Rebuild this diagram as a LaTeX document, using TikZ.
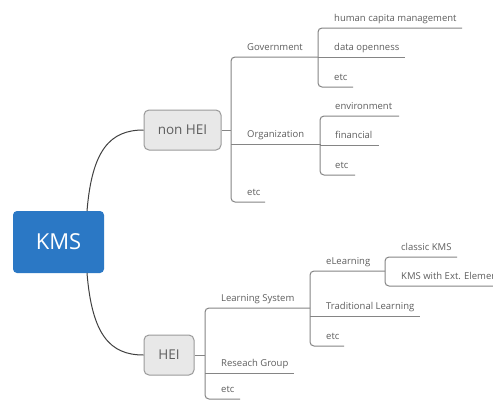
\documentclass[tikz,border=0pt]{standalone}
\usepackage{fontspec}
\setmainfont{Open Sans}
\definecolor{kmsblue}{HTML}{2B78C5}
\definecolor{linegray}{HTML}{858585}
\definecolor{txtgray}{HTML}{5E5E5E}
\definecolor{boxfill}{HTML}{E8E8E8}
\definecolor{boxdraw}{HTML}{9A9A9A}
\begin{document}
\begin{tikzpicture}[x=1pt,y=-1pt,
  rootbox/.style={draw=none,fill=kmsblue,rounded corners=4pt,text=white,font=\fontsize{22}{24}\selectfont,inner sep=0pt},
  mainbox/.style={draw=boxdraw,fill=boxfill,line width=1pt,rounded corners=5pt,text=txtgray,font=\fontsize{13.5}{15}\selectfont,inner sep=0pt},
  leaf/.style={anchor=base west,inner sep=0pt,text=txtgray,font=\fontsize{9.5}{11}\selectfont},
  conn/.style={draw=linegray,line width=1pt},
  bus/.style={draw=linegray,line width=1pt,rounded corners=4pt},
  curve/.style={draw=black!75,line width=1pt}]
\useasboundingbox (0,0) rectangle (493,400);
\fill[white] (0,0) rectangle (493,400);

% root and main boxes
\node[rootbox,minimum width=91pt,minimum height=62pt] (kms) at (58.5,242) {KMS};
\node[mainbox,minimum width=77pt,minimum height=40pt] (nonhei) at (182.5,130) {non HEI};
\node[mainbox,minimum width=50pt,minimum height=40pt] (hei) at (169,355) {HEI};

\coordinate (kmsT) at (87,211);
\coordinate (kmsB) at (87,273);
\path[curve] (kmsT) .. controls (92,150) and (110,130) .. (nonhei.west);
\path[curve] (kmsB) .. controls (92,335) and (110,355) .. (hei.west);

% ---------- non HEI branch ----------
\coordinate (nb) at (231,130);
\path[conn] (nonhei.east) -- (nb);
\coordinate (govE) at (318,57);
\coordinate (orgE) at (320,144);
\coordinate (netcE) at (265,202);
\path[bus] (govE) -- (231,57) -- (231,202) -- (netcE);
\path[conn] (231,144) -- (orgE);
\node[leaf] (gov) at (247,50) {Government};
\node[leaf] (org) at (247,137) {Organization};
\node[leaf] (netc) at (247,195) {etc};

% Government children
\coordinate (g1E) at (462,28);
\coordinate (g2E) at (405,57);
\coordinate (g3E) at (353,87);
\path[bus] (g1E) -- (318,28) -- (318,87) -- (g3E);
\path[conn] (govE) -- (g2E);
\node[leaf] (g1) at (334,21) {human capita management};
\node[leaf] (g2) at (334,50) {data openness};
\node[leaf] (g3) at (334,80) {etc};

% Organization children
\coordinate (o1E) at (399,116);
\coordinate (o2E) at (379,145);
\coordinate (o3E) at (355,175);
\path[bus] (o1E) -- (320,116) -- (320,175) -- (o3E);
\path[conn] (orgE) -- (320,145) -- (o2E);
\node[leaf] (o1) at (335,109) {environment};
\node[leaf] (o2) at (335,138) {financial};
\node[leaf] (o3) at (335,168) {etc};

% ---------- HEI branch ----------
\coordinate (hb) at (205,355);
\path[conn] (hei.east) -- (hb);
\coordinate (lsE) at (310,308);
\coordinate (rgE) at (294,373);
\coordinate (hetcE) at (240,399);
\path[bus] (lsE) -- (205,308) -- (205,399) -- (hetcE);
\path[conn] (205,373) -- (rgE);
\node[leaf] (ls) at (221,301) {Learning System};
\node[leaf] (rg) at (221,366) {Reseach Group};
\node[leaf] (hetc) at (221,392) {etc};

% Learning System children
\coordinate (elE) at (385,271);
\coordinate (tlE) at (420,316);
\coordinate (letcE) at (344,346);
\path[bus] (elE) -- (310,271) -- (310,346) -- (letcE);
\path[conn] (310,316) -- (tlE);
\node[leaf] (el) at (326,264) {eLearning};
\node[leaf] (tl) at (326,309) {Traditional Learning};
\node[leaf] (letc) at (326,339) {etc};

% eLearning children
\coordinate (e1E) at (457,257);
\coordinate (e2E) at (500,286);
\path[bus] (e1E) -- (385,257) -- (385,286) -- (e2E);
\node[leaf] (e1) at (401,250) {classic KMS};
\node[leaf] (e2) at (401,279) {KMS with Ext. Elements};
\end{tikzpicture}
\end{document}
